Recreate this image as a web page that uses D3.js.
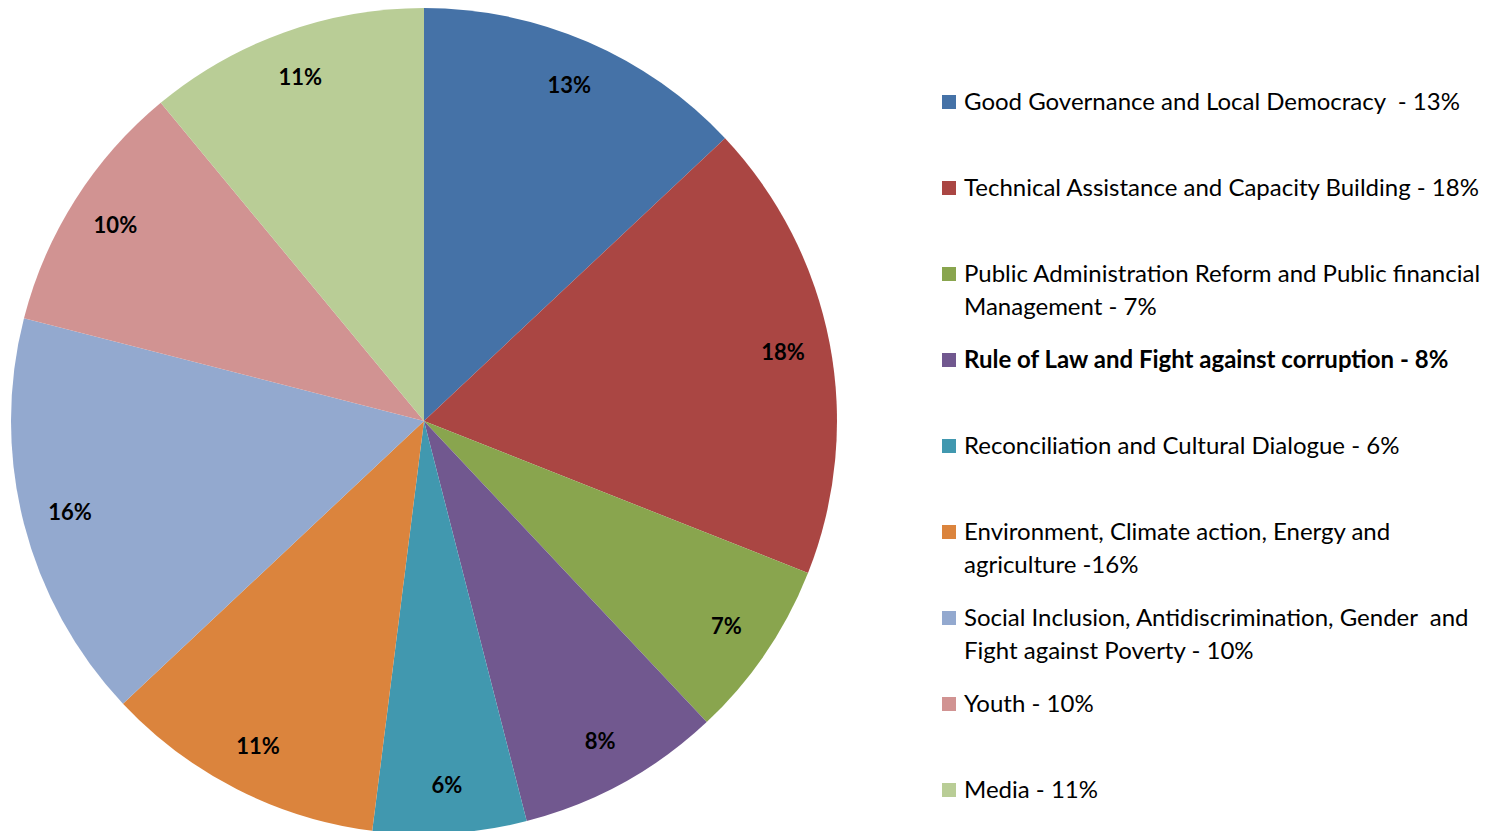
<!DOCTYPE html>
<html>
<head>
<meta charset="utf-8">
<script src="https://cdn.jsdelivr.net/npm/d3@7"></script>
<style>
  body { margin: 0; background: #fff; }
  text { font-family: Lato, "Open Sans", sans-serif; white-space: pre; }
</style>
</head>
<body>
<script>
var categories = [
  "Good Governance and Local Democracy",
  "Technical Assistance and Capacity Building",
  "Public Administration Reform and Public financial Management",
  "Rule of Law and Fight against corruption",
  "Reconciliation and Cultural Dialogue",
  "Environment, Climate action, Energy and agriculture",
  "Social Inclusion, Antidiscrimination, Gender and Fight against Poverty",
  "Youth",
  "Media"
];
var values = [13, 18, 7, 8, 6, 11, 16, 10, 11];
// legend text as printed in the source (differs from the slices for two entries)
var legendLines = [
  ["Good Governance and Local Democracy  - 13%"],
  ["Technical Assistance and Capacity Building - 18%"],
  ["Public Administration Reform and Public financial", "Management - 7%"],
  ["Rule of Law and Fight against corruption - 8%"],
  ["Reconciliation and Cultural Dialogue - 6%"],
  ["Environment, Climate action, Energy and", "agriculture -16%"],
  ["Social Inclusion, Antidiscrimination, Gender  and", "Fight against Poverty - 10%"],
  ["Youth - 10%"],
  ["Media - 11%"]
];
var boldLegend = [false, false, false, true, false, false, false, false, false];
var colors = ["#4572A7", "#AA4643", "#89A54E", "#71588F", "#4198AF",
              "#DB843D", "#93A9CF", "#D19392", "#B9CD96"];

var width = 1512, height = 831;
var svg = d3.select("body").append("svg")
  .attr("width", width)
  .attr("height", height);

var cx = 424, cy = 421, r = 413;
var color = d3.scaleOrdinal().domain(categories).range(colors);

var pie = d3.pie().sort(null).value(function(d, i) { return values[i]; });
var arcs = pie(categories);
var arc = d3.arc().innerRadius(0).outerRadius(r);
var labelArc = d3.arc().innerRadius(r * 0.885).outerRadius(r * 0.885);

var pieG = svg.append("g").attr("transform", "translate(" + cx + "," + cy + ")");
pieG.selectAll("path")
  .data(arcs)
  .enter()
  .append("path")
    .attr("d", arc)
    .attr("fill", function(d) { return color(d.data); });

pieG.selectAll("text")
  .data(arcs)
  .enter()
  .append("text")
    .attr("transform", function(d) { return "translate(" + labelArc.centroid(d) + ")"; })
    .attr("text-anchor", "middle")
    .attr("dy", "0.35em")
    .style("font-size", "22px")
    .style("font-weight", "bold")
    .attr("fill", "#000")
    .text(function(d) { return d.value + "%"; });

// legend
var legG = svg.append("g").attr("transform", "translate(942,0)");
var item = legG.selectAll("g.item")
  .data(categories)
  .enter()
  .append("g")
    .attr("class", "item")
    .attr("transform", function(d, i) { return "translate(0," + (102 + i * 86) + ")"; });

item.append("rect")
  .attr("x", 0).attr("y", -7)
  .attr("width", 14).attr("height", 14)
  .attr("fill", function(d) { return color(d); });

item.append("text")
  .attr("x", 22)
  .style("font-size", "24px")
  .style("font-weight", function(d, i) { return boldLegend[i] ? "bold" : "normal"; })
  .attr("fill", "#000")
  .selectAll("tspan")
  .data(function(d, i) { return legendLines[i]; })
  .enter()
  .append("tspan")
    .attr("x", 22)
    .attr("y", function(d, j) { return j * 33; })
    .attr("dy", "0.35em")
    .text(function(d) { return d; });
</script>
</body>
</html>
